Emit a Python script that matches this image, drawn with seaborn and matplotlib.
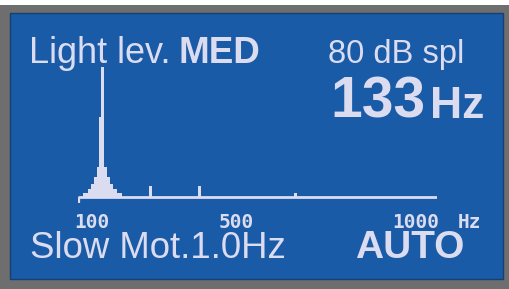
import matplotlib
matplotlib.use("Agg")
import matplotlib.pyplot as plt
from matplotlib.patches import Rectangle
import seaborn as sns
import pandas as pd

# ---- data ----
freq_hz = [76, 80, 84, 88, 92, 96, 100, 104, 108, 112, 116, 120, 124, 128, 132,
           136, 140, 144, 148, 152, 156, 160, 164, 168, 172, 176, 180,
           260, 264, 396, 400, 664, 668]
level = [4, 4, 4, 4, 8, 8, 13, 13, 20, 20, 30, 80, 80, 130, 130,
         30, 30, 20, 20, 13, 13, 8, 8, 8, 4, 4, 4,
         11, 11, 11, 11, 4, 4]
bin_width_hz = 4
bin_range = (58, 1062)
freq_range = (61, 1058)
tick_values = [100, 500, 1000]
tick_labels = ["100", "500", "1000"]

title_left = "Light lev."
title_left_bold = "MED"
spl_text = "80 dB spl"
freq_value = "133"
freq_unit = "Hz"
bottom_left = "Slow Mot.1.0Hz"
bottom_right = "AUTO"
axis_unit = "Hz"

# ---- style ----
W, H = 510, 289
BLUE = "#1a5ba8"
FG = "#dcdcf0"
GRAY = "#6e6e6e"
TICK_PAD_PT = 7

sns.set_theme(style="white")
plt.rcParams["font.family"] = ["Liberation Sans", "DejaVu Sans"]

fig = plt.figure(figsize=(W / 100, H / 100), dpi=100)
fig.patch.set_facecolor(GRAY)

def fx(x):
    return x / W

def fy(y):
    return 1 - y / H

# white strip at top, blue panel
fig.patches.append(Rectangle((0, fy(5)), 1, 5 / H, transform=fig.transFigure,
                             facecolor="white", edgecolor="none", zorder=-2))
fig.patches.append(Rectangle((fx(10), fy(279)), 493 / W, 266 / H, transform=fig.transFigure,
                             facecolor=BLUE, edgecolor="#16406f", linewidth=1.0, zorder=-1))

# spectrum axes: x px 78..437, y px 67..203
ax = fig.add_axes([fx(78), fy(203), 359 / W, 136 / H])
ax.set_zorder(2)
ax.set_facecolor("none")
spec = pd.DataFrame({"freq": freq_hz, "level": level})
sns.histplot(data=spec, x="freq", weights="level", binwidth=bin_width_hz,
             binrange=bin_range, ax=ax, color=FG, edgecolor="none", linewidth=0,
             alpha=1, element="bars")
ax.plot(list(freq_range), [0, 0], color=FG, lw=2.0, solid_capstyle="butt", zorder=3)
ax.plot([freq_range[0] + 1.5, freq_range[0] + 1.5], [0, -6], color=FG, lw=1.6,
        solid_capstyle="butt", zorder=3)
ax.set_xlim(*freq_range)
ax.set_ylim(-6, 130)
for s in ax.spines.values():
    s.set_visible(False)
ax.set_yticks([])
ax.set_ylabel("")
ax.set_xlabel("")
ax.set_xticks(tick_values)
ax.set_xticklabels(tick_labels, family="DejaVu Sans Mono", fontweight="bold",
                   fontsize=14, color=FG)
ax.tick_params(axis="x", length=0, pad=TICK_PAD_PT)
ax.grid(False)

def txt(x, y, s, size, bold=False, **kw):
    fig.text(fx(x), fy(y), s, fontsize=size, color=FG, zorder=3,
             fontweight="bold" if bold else "normal", va="baseline", ha="left", **kw)

txt(29, 63, title_left, 26)
txt(179, 63, title_left_bold, 26.5, bold=True)
txt(328, 63, spl_text, 23.5)
txt(330, 118, freq_value, 41, bold=True)
txt(430, 118, freq_unit, 32, bold=True)
txt(30, 258, bottom_left, 26.3)
txt(355, 258, bottom_right, 28, bold=True)
fig.text(fx(470), fy(203 + TICK_PAD_PT * 100 / 72), axis_unit, fontsize=14, color=FG,
         family="DejaVu Sans Mono", fontweight="bold", ha="center", va="top", zorder=3)

fig.savefig("out.png", dpi=100, facecolor=fig.get_facecolor())
